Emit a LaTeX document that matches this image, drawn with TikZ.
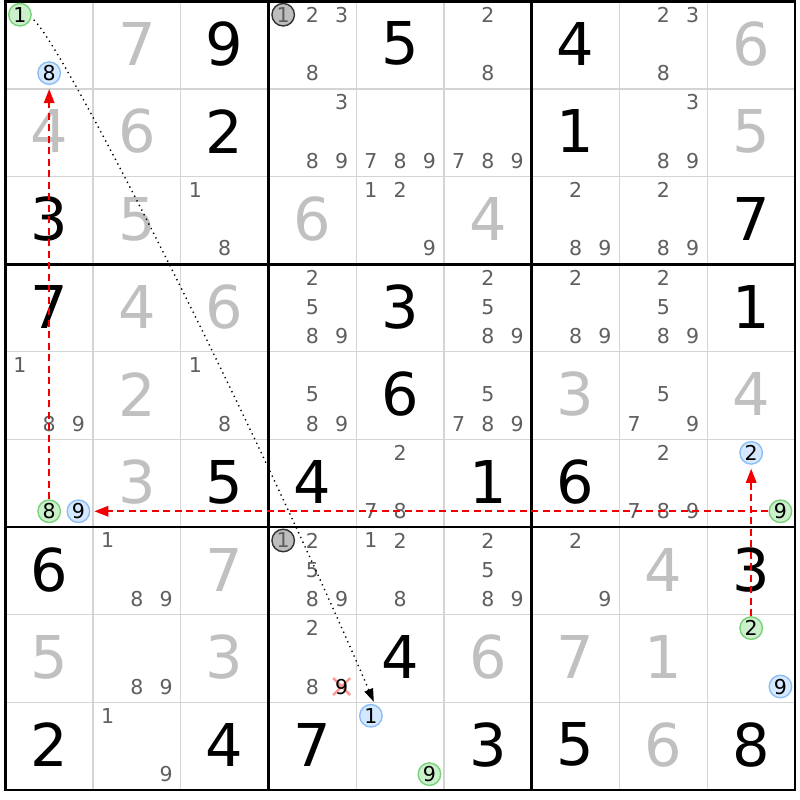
\documentclass[tikz,border=0pt]{standalone}
\usepackage{fontspec}
\setmainfont{DejaVu Sans}
\usetikzlibrary{arrows.meta}
\definecolor{candc}{RGB}{95,95,95}
\definecolor{givc}{RGB}{192,192,192}
\definecolor{thinc}{RGB}{212,212,212}
\definecolor{grnfill}{RGB}{204,240,204}
\definecolor{grnline}{RGB}{120,210,120}
\definecolor{blufill}{RGB}{212,232,255}
\definecolor{bluline}{RGB}{140,190,245}
\definecolor{gryfill}{RGB}{190,190,190}
\definecolor{gryline}{RGB}{50,50,50}
\definecolor{linkred}{RGB}{240,0,0}
\definecolor{xpink}{RGB}{255,150,150}
\def\xo{5.3}\def\yo{1.3}\def\cw{87.75}\def\ch{87.63}
\tikzset{
 bigdig/.style={font=\fontsize{59}{59}\selectfont, inner sep=0pt},
 givendig/.style={bigdig, text=givc},
 solveddig/.style={bigdig, text=black},
 canddig/.style={font=\fontsize{20.5}{20.5}\selectfont, inner sep=0pt, text=candc},
 ringed/.style={circle, minimum size=22.5pt, inner sep=0pt, line width=1.4pt, font=\fontsize{20.5}{20.5}\selectfont, text=black},
 grn/.style={ringed, draw=grnline, fill=grnfill},
 blu/.style={ringed, draw=bluline, fill=blufill},
 gry/.style={ringed, draw=gryline, fill=gryfill, text=candc},
 thinline/.style={draw=thinc, line width=1.2pt},
 thickline/.style={draw=black, line width=2.8pt},
 elimx/.style={draw=xpink, line width=2.4pt},
 redlink/.style={color=linkred, line width=1.6pt, dash pattern=on 7pt off 4.5pt, -{Triangle[length=14pt,width=10.5pt]}, shorten >=4pt},
 dotlink/.style={color=black, line width=1.4pt, dash pattern=on 1.3pt off 3.9pt, -{Triangle[length=13pt,width=9pt]}, shorten >=3pt, shorten <=3pt}
}
\newcommand\bigat[4]{\node[#4] (d#1#2) at ({\xo+(#2+0.5)*\cw},{\yo+(#1+0.5)*\ch-1.3}) {#3};}
\newcommand\gv[3]{\bigat{#1}{#2}{#3}{givendig}}
\newcommand\sv[3]{\bigat{#1}{#2}{#3}{solveddig}}
\newcommand\subpos[3]{%
 \pgfmathsetmacro\cpx{\xo+#2*\cw+(mod(#3-1,3)+0.5)*\cw/3}%
 \pgfmathsetmacro\cpy{\yo+#1*\ch+(div(#3-1,3)+0.5)*\ch/3-1.2}}
\newcommand\cds[3]{\foreach \dd in {#3}{\subpos{#1}{#2}{\dd}\node[canddig] (k#1#2\dd) at (\cpx,\cpy) {\dd};}}
\newcommand\rc[4]{\subpos{#1}{#2}{#3}\node[#4] (m#1#2#3) at (\cpx,\cpy) {#3};}
\begin{document}
\begin{tikzpicture}[x=1pt,y=-1pt]
\useasboundingbox (0,0) rectangle (800,800);
\fill[white] (0,0) rectangle (800,800);
% thin grid
\foreach \i in {1,2,4,5,7,8}{
 \draw[thinline] ({\xo+\i*\cw},\yo) -- ({\xo+\i*\cw},{\yo+9*\ch});
 \draw[thinline] (\xo,{\yo+\i*\ch}) -- ({\xo+9*\cw},{\yo+\i*\ch});
}
\foreach \i in {3,6}{
 \draw[thickline] ({\xo+\i*\cw},\yo) -- ({\xo+\i*\cw},{\yo+9*\ch});
 \draw[thickline] (\xo,{\yo+\i*\ch}) -- ({\xo+9*\cw},{\yo+\i*\ch});
}
\draw[thickline] (\xo,\yo) rectangle ({\xo+9*\cw},{\yo+9*\ch});
% row 0
\rc{0}{0}{1}{grn}\rc{0}{0}{8}{blu}
\gv{0}{1}{7}\sv{0}{2}{9}
\rc{0}{3}{1}{gry}\cds{0}{3}{2,3,8}
\sv{0}{4}{5}\cds{0}{5}{2,8}\sv{0}{6}{4}\cds{0}{7}{2,3,8}\gv{0}{8}{6}
% row 1
\gv{1}{0}{4}\gv{1}{1}{6}\sv{1}{2}{2}\cds{1}{3}{3,8,9}\cds{1}{4}{7,8,9}\cds{1}{5}{7,8,9}
\sv{1}{6}{1}\cds{1}{7}{3,8,9}\gv{1}{8}{5}
% row 2
\sv{2}{0}{3}\gv{2}{1}{5}\cds{2}{2}{1,8}\gv{2}{3}{6}\cds{2}{4}{1,2,9}\gv{2}{5}{4}
\cds{2}{6}{2,8,9}\cds{2}{7}{2,8,9}\sv{2}{8}{7}
% row 3
\sv{3}{0}{7}\gv{3}{1}{4}\gv{3}{2}{6}\cds{3}{3}{2,5,8,9}\sv{3}{4}{3}\cds{3}{5}{2,5,8,9}
\cds{3}{6}{2,8,9}\cds{3}{7}{2,5,8,9}\sv{3}{8}{1}
% row 4
\cds{4}{0}{1,8,9}\gv{4}{1}{2}\cds{4}{2}{1,8}\cds{4}{3}{5,8,9}\sv{4}{4}{6}\cds{4}{5}{5,7,8,9}
\gv{4}{6}{3}\cds{4}{7}{5,7,9}\gv{4}{8}{4}
% row 5
\rc{5}{0}{8}{grn}\rc{5}{0}{9}{blu}\gv{5}{1}{3}\sv{5}{2}{5}\sv{5}{3}{4}\cds{5}{4}{2,7,8}
\sv{5}{5}{1}\sv{5}{6}{6}\cds{5}{7}{2,7,8,9}\rc{5}{8}{2}{blu}\rc{5}{8}{9}{grn}
% row 6
\sv{6}{0}{6}\cds{6}{1}{1,8,9}\gv{6}{2}{7}\rc{6}{3}{1}{gry}\cds{6}{3}{2,5,8,9}
\cds{6}{4}{1,2,8}\cds{6}{5}{2,5,8,9}\cds{6}{6}{2,9}\gv{6}{7}{4}\sv{6}{8}{3}
% row 7
\gv{7}{0}{5}\cds{7}{1}{8,9}\gv{7}{2}{3}\cds{7}{3}{2,8}
\subpos{7}{3}{9}
\draw[elimx] (\cpx-8.5,\cpy-8.5) -- (\cpx+8.5,\cpy+8.5) (\cpx-8.5,\cpy+8.5) -- (\cpx+8.5,\cpy-8.5);
\node[canddig, text=black] (k739) at (\cpx,\cpy) {9};
\sv{7}{4}{4}\gv{7}{5}{6}\gv{7}{6}{7}\gv{7}{7}{1}\rc{7}{8}{2}{grn}\rc{7}{8}{9}{blu}
% row 8
\sv{8}{0}{2}\cds{8}{1}{1,9}\sv{8}{2}{4}\sv{8}{3}{7}\rc{8}{4}{1}{blu}\rc{8}{4}{9}{grn}
\sv{8}{5}{3}\sv{8}{6}{5}\gv{8}{7}{6}\sv{8}{8}{8}
% connectors
\draw[redlink] (m508) -- (m008);
\draw[redlink] (m589) -- (m509);
\draw[redlink] (m782) -- (m582);
\draw[dotlink] (m001.-16) .. controls +(31,26) and +(-119,-278) .. (m841.70);
\end{tikzpicture}
\end{document}
